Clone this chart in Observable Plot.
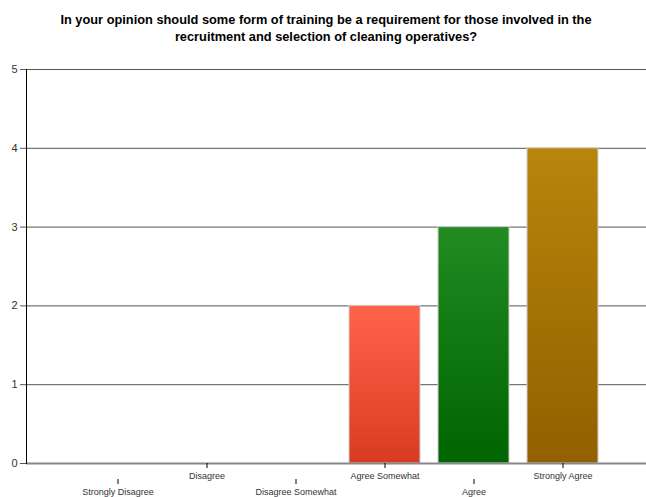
<!DOCTYPE html>
<html>
<head>
<meta charset="utf-8">
<script src="https://cdn.jsdelivr.net/npm/d3@7"></script>
<script src="https://cdn.jsdelivr.net/npm/@observablehq/plot@0.6"></script>
<style>
  html, body { margin: 0; padding: 0; background: #fff; }
  #wrap { width: 646px; height: 497px; position: relative; overflow: hidden; }
  #title { position: absolute; left: 0; top: 11px; width: 652px; text-align: center;
    font: bold 12.8px "Liberation Sans", Arial, sans-serif; line-height: 17px; color: #000; }
  #chart { position: absolute; left: 0; top: 50px; }
</style>
</head>
<body>
<div id="wrap">
  <div id="title">In your opinion should some form of training be a requirement for those involved in the<br>recruitment and selection of cleaning operatives?</div>
  <div id="chart"></div>
</div>
<script>
const categories = ["Strongly Disagree", "Disagree", "Disagree Somewhat", "Agree Somewhat", "Agree", "Strongly Agree"];
const values = [0, 0, 0, 2, 3, 4];
const gradientTops = ["#ff6a4d", "#ff6a4d", "#ff6a4d", "#ff634a", "#228b22", "#b8860b"];
const gradientBottoms = ["#d63d1f", "#d63d1f", "#d63d1f", "#d83c20", "#006400", "#935f00"];
const yTicks = [0, 1, 2, 3, 4, 5];
const upperLabels = ["Disagree", "Agree Somewhat", "Strongly Agree"];
const lowerLabels = ["Strongly Disagree", "Disagree Somewhat", "Agree"];

const data = categories.map((c, i) => ({category: c, value: values[i], grad: `url(#grad${i})`}));

const plot = Plot.plot({
  width: 646,
  height: 447,
  marginLeft: 26,
  marginRight: 0,
  marginTop: 19,
  marginBottom: 34,
  style: {fontFamily: "'Liberation Sans', Arial, sans-serif", background: "#fff", overflow: "visible"},
  x: {domain: categories, range: [80.5, 599], paddingInner: 0.207, paddingOuter: 0, label: null},
  y: {domain: [0, 5], label: null},
  color: {type: "identity"},
  marks: [
    Plot.gridY(yTicks.filter(d => d > 0), {stroke: "#555", strokeOpacity: 1, strokeWidth: 1}),
    Plot.barY(data.filter(d => d.value > 0), {x: "category", y: "value", fill: "grad", stroke: "#d0d0d0", strokeWidth: 1}),
    Plot.ruleY([0], {stroke: "#888", strokeWidth: 2}),
    Plot.frame({anchor: "left", stroke: "#000", strokeWidth: 1}),
    Plot.axisY(yTicks, {tickSize: 6, tickPadding: 3, fontSize: 11, fill: "#333", stroke: "#555", tickFormat: d3.format("d"), label: null}),
    Plot.axisX(upperLabels, {tickSize: 5, tickPadding: 4, fontSize: 9, fill: "#333", label: null}),
    Plot.axisX(lowerLabels, {tickSize: 5, tickPadding: 4, fontSize: 9, fill: "#333", dy: 16, label: null})
  ]
});

const svg = d3.select(plot);
const defs = svg.insert("defs", ":first-child");
categories.forEach((c, i) => {
  const g = defs.append("linearGradient").attr("id", `grad${i}`)
    .attr("x1", 0).attr("y1", 0).attr("x2", 0).attr("y2", 1);
  g.append("stop").attr("offset", "0%").attr("stop-color", gradientTops[i]);
  g.append("stop").attr("offset", "100%").attr("stop-color", gradientBottoms[i]);
});

document.getElementById("chart").appendChild(plot);
</script>
</body>
</html>
